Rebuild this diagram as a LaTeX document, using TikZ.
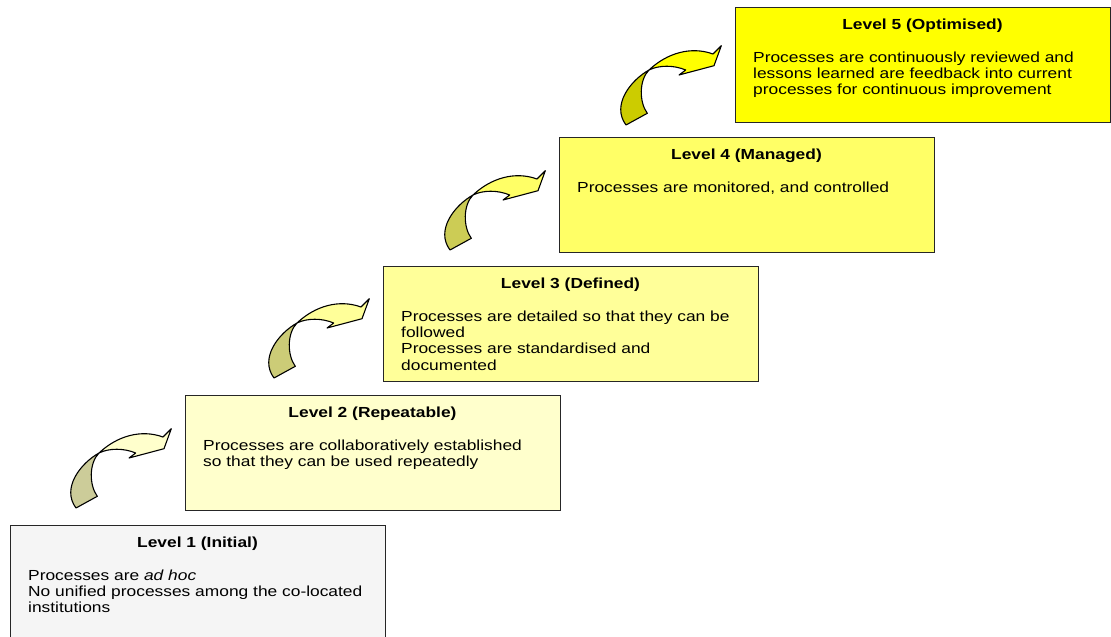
\documentclass[tikz,border=0pt]{standalone}
\usepackage{fontspec}
\setmainfont{Liberation Sans}[FakeStretch=1.19]
\definecolor{fillA}{HTML}{F5F5F5}
\definecolor{fillB}{HTML}{FFFFCC}
\definecolor{fillC}{HTML}{FFFF99}
\definecolor{fillD}{HTML}{FFFF66}
\definecolor{fillE}{HTML}{FFFF00}
\definecolor{darkB}{HTML}{CCCC99}
\definecolor{darkC}{HTML}{CCCC77}
\definecolor{darkD}{HTML}{CCCC55}
\definecolor{darkE}{HTML}{CCCC00}
\tikzset{
  pics/stepArrow/.style 2 args={code={
    % back side of the twisted ribbon
    \draw[twist, fill=#2] (0,0) .. controls (-18,10) and (-38,35) .. (-23,55)
      -- (-1.7,43.3) .. controls (-10,32) and (-10,10) .. (0,0) -- cycle;
    % front side with the head
    \draw[twist, fill=#1] (0,0) .. controls (18,-17) and (42,-24) .. (64,-16)
      -- (72.3,-24.3) -- (65,-4.3) -- (30,5) -- (36.7,0)
      .. controls (25,-5) and (10,-5) .. (0,0) -- cycle;
  }}
}
\begin{document}
\begin{tikzpicture}[x=1pt,y=-1pt,
  levelbox/.style={draw=black!85, line width=1.4pt, minimum width=375pt,
    minimum height=115pt, anchor=north west, inner sep=0pt},
  leveltitle/.style={anchor=base, inner sep=0pt,
    font=\fontsize{14.6}{16.3}\selectfont\bfseries},
  leveltext/.style={anchor=north west, align=left, inner sep=0pt,
    font=\fontsize{14.6}{16.3}\selectfont},
  twist/.style={draw=black, line width=1.1pt, line join=round}
]
\useasboundingbox (0,0) rectangle (1111,637);

% level boxes
\node[levelbox, fill=fillA] (b1) at (10,525) {};
\node[levelbox, fill=fillB] (b2) at (185,395) {};
\node[levelbox, fill=fillC] (b3) at (383,266) {};
\node[levelbox, fill=fillD] (b4) at (559,137) {};
\node[levelbox, fill=fillE] (b5) at (735,7) {};

% titles
\node[leveltitle] (t1) at (197.5,547) {Level 1 (Initial)};
\node[leveltitle] (t2) at (372.5,417) {Level 2 (Repeatable)};
\node[leveltitle] (t3) at (570.5,288) {Level 3 (Defined)};
\node[leveltitle] (t4) at (746.5,159) {Level 4 (Managed)};
\node[leveltitle] (t5) at (922.5,29) {Level 5 (Optimised)};

% descriptions
\node[leveltext] (d1) at (28,568.6) {\strut Processes are \textit{ad hoc}\\No unified processes among the co-located\\institutions};
\node[leveltext] (d2) at (203,438.6) {\strut Processes are collaboratively established\\so that they can be used repeatedly};
\node[leveltext] (d3) at (401,309.6) {\strut Processes are detailed so that they can be\\followed\\Processes are standardised and\\documented};
\node[leveltext] (d4) at (577,180.6) {\strut Processes are monitored, and controlled};
\node[leveltext] (d5) at (753,50.6) {\strut Processes are continuously reviewed and\\lessons learned are feedback into current\\processes for continuous improvement};

% step arrows
\pic at (99,453) {stepArrow={fillB}{darkB}};
\pic at (297,323) {stepArrow={fillC}{darkC}};
\pic at (473,195) {stepArrow={fillD}{darkD}};
\pic at (649,70) {stepArrow={fillE}{darkE}};
\end{tikzpicture}
\end{document}
